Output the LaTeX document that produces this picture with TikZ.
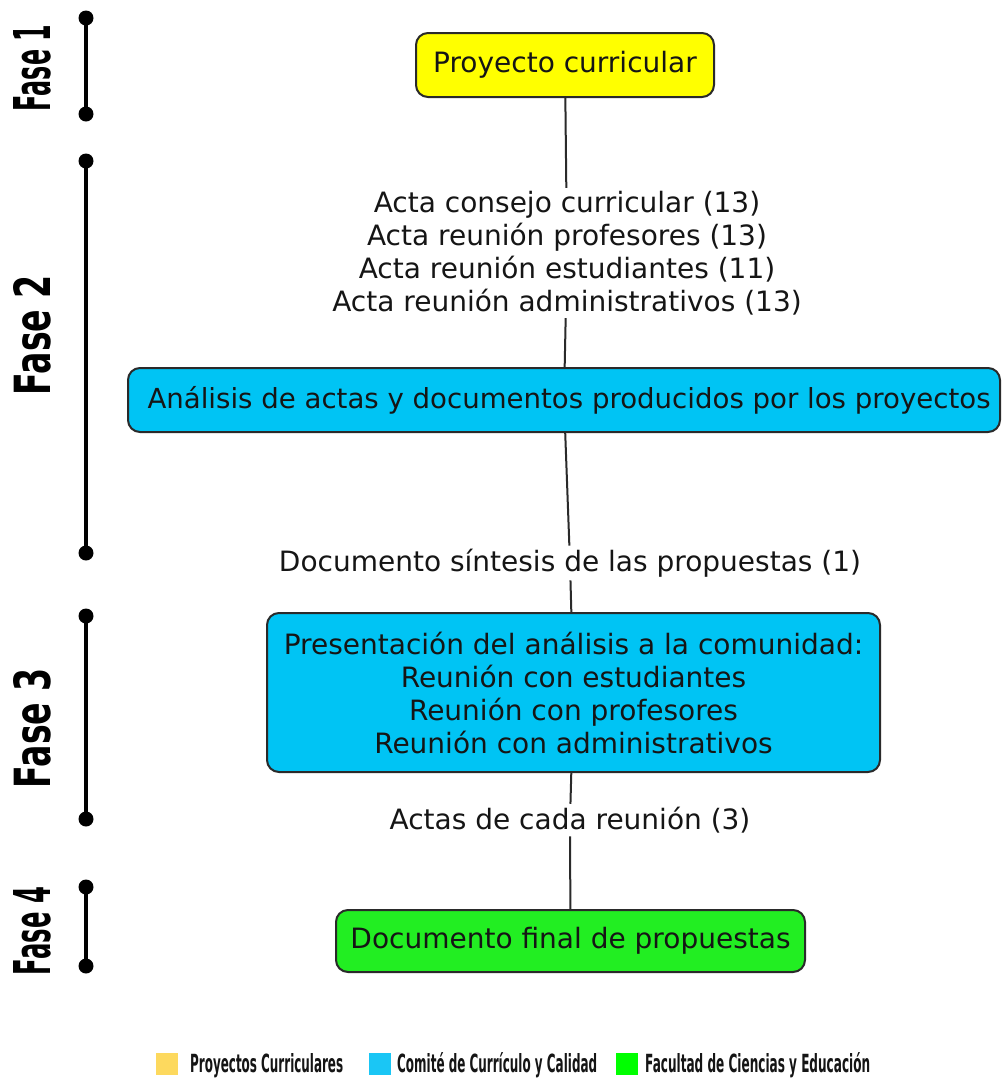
\documentclass[tikz,border=0pt]{standalone}
\usepackage{fontspec}
\setmainfont{DejaVu Sans}
\usetikzlibrary{positioning}
\definecolor{pyellow}{HTML}{FFFF00}
\definecolor{pcyan}{HTML}{00C4F4}
\definecolor{pgreen}{HTML}{22EE22}
\definecolor{lyellow}{HTML}{FDD95E}
\definecolor{lcyan}{HTML}{1AC6F5}
\definecolor{lgreen}{HTML}{00FF00}
\definecolor{ink}{HTML}{151515}
\definecolor{edge}{HTML}{2A2A2A}
\newcommand\legw[2]{\resizebox{#1}{1.0\height}{\fontsize{25}{25}\selectfont\bfseries #2}}
\tikzset{
  box/.style={draw=edge, line width=2pt, rounded corners=12pt, text=ink, align=center, inner sep=0pt,
    font=\fontsize{28}{33}\selectfont},
  lab/.style={text=ink, align=center, inner sep=3pt, font=\fontsize{28}{33}\selectfont},
  conn/.style={draw=edge, line width=2pt},
  bar/.style={line width=4pt, black},
  dot/.style={circle, fill=black, inner sep=0pt, minimum size=15pt},
  fase/.style={rotate=90, inner sep=0pt, text=black},
  legsq/.style={inner sep=0pt, minimum width=22pt, minimum height=22pt},
  legtx/.style={inner sep=0pt, anchor=base west, text=ink}
}
\begin{document}
\begin{tikzpicture}[x=1pt,y=-1pt]
\useasboundingbox (0,0) rectangle (1002,1080);
\fill[white] (0,0) rectangle (1002,1080);

% phase bars
\node[dot] (f1a) at (86,18) {};
\node[dot] (f1b) at (86,114) {};
\draw[bar] (f1a.center) -- (f1b.center);
\node[dot] (f2a) at (86,161) {};
\node[dot] (f2b) at (86,553) {};
\draw[bar] (f2a.center) -- (f2b.center);
\node[dot] (f3a) at (86,616) {};
\node[dot] (f3b) at (86,819) {};
\draw[bar] (f3a.center) -- (f3b.center);
\node[dot] (f4a) at (86,887) {};
\node[dot] (f4b) at (86,966) {};
\draw[bar] (f4a.center) -- (f4b.center);

% phase labels
\node[fase] (fl1) at (32,68) {\resizebox{86pt}{37pt}{\bfseries Fase 1}};
\node[fase] (fl2) at (32,335) {\resizebox{120pt}{37pt}{\bfseries Fase 2}};
\node[fase] (fl3) at (32,728) {\resizebox{120pt}{37pt}{\bfseries Fase 3}};
\node[fase] (fl4) at (32,931) {\resizebox{88pt}{37pt}{\bfseries Fase 4}};

% main nodes
\node[box, fill=pyellow, minimum width=298pt, minimum height=64pt] (pc) at (565,65) {Proyecto curricular};
\node[lab] (actas) at (567,253) {Acta consejo curricular (13)\\Acta reunión profesores (13)\\Acta reunión estudiantes (11)\\Acta reunión administrativos (13)};
\node[box, fill=pcyan, minimum width=872pt, minimum height=64pt, font=\fontsize{27.6}{33}\selectfont] (an) at (564,400) {\hspace*{10pt}Análisis de actas y documentos producidos por los proyectos};
\node[lab] (sint) at (570,563) {Documento síntesis de las propuestas (1)};
\node[box, fill=pcyan, minimum width=613pt, minimum height=159pt] (pres) at (573.5,692.5) {Presentación del análisis a la comunidad:\\Reunión con estudiantes\\Reunión con profesores\\Reunión con administrativos};
\node[lab] (act3) at (570,820) {Actas de cada reunión (3)};
\node[box, fill=pgreen, minimum width=469pt, minimum height=62pt] (fin) at (570.5,941) {Documento final de propuestas};

% connectors
\draw[conn] (pc) -- (actas);
\draw[conn] (actas) -- (an);
\draw[conn] (an) -- (sint);
\draw[conn] (sint) -- (pres);
\draw[conn] (pres) -- (act3);
\draw[conn] (act3) -- (fin);

% legend
\node[legsq, fill=lyellow] (lq1) at (167,1064) {};
\node[legtx] (lt1) at (190,1072) {\legw{153pt}{Proyectos Curriculares}};
\node[legsq, fill=lcyan] (lq2) at (380,1064) {};
\node[legtx] (lt2) at (397,1072) {\legw{200pt}{Comité de Currículo y Calidad}};
\node[legsq, fill=lgreen] (lq3) at (627,1064) {};
\node[legtx] (lt3) at (645,1072) {\legw{225pt}{Facultad de Ciencias y Educación}};
\end{tikzpicture}
\end{document}
